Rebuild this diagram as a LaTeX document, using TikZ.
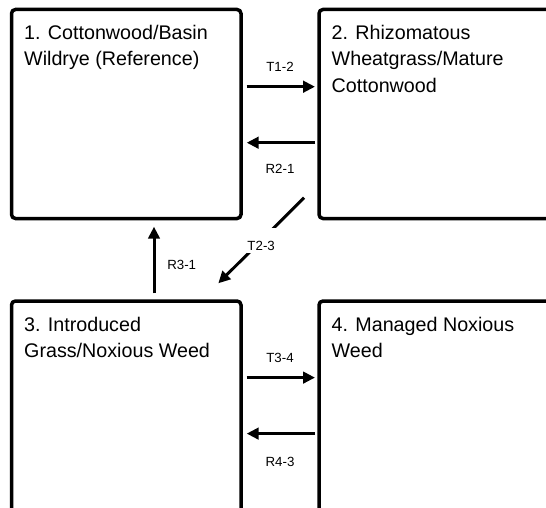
\documentclass[tikz,border=0pt]{standalone}
\usepackage{fontspec}
\setmainfont{Liberation Sans}
\usetikzlibrary{arrows.meta}
\begin{document}
\begin{tikzpicture}[x=1pt,y=-1pt,
  statebox/.style={draw, line width=3.5pt, rounded corners=4pt,
    minimum width=229.5pt, minimum height=209pt, inner sep=0pt, outer sep=0pt},
  statetext/.style={anchor=north west, align=left, inner sep=0pt,
    font=\fontsize{19.7}{26.3}\selectfont},
  arr/.style={line width=3pt, -{Triangle[length=12pt,width=11.5pt]}},
  lbl/.style={font=\fontsize{13.3}{15}\selectfont, inner sep=0pt}]
\useasboundingbox (0,0) rectangle (546,508);
\clip (0,0) rectangle (546,508);
% boxes
\node[statebox] (b1) at (126.25,114) {};
\node[statebox, minimum width=249.5pt] (b2) at (443.75,114) {};
\node[statebox, minimum height=229pt] (b3) at (126.25,415.5) {};
\node[statebox, minimum width=249.5pt, minimum height=229pt] (b4) at (443.75,415.5) {};
% box texts
\node[statetext] (t1) at ([xshift=12.5pt,yshift=-15pt]b1.north west)
  {\rule{0pt}{15pt}1. Cottonwood/Basin\\Wildrye (Reference)};
\node[statetext] (t2) at ([xshift=12.5pt,yshift=-15pt]b2.north west)
  {\rule{0pt}{15pt}2. Rhizomatous\\Wheatgrass/Mature\\Cottonwood};
\node[statetext] (t3) at ([xshift=12.5pt,yshift=-15pt]b3.north west)
  {\rule{0pt}{15pt}3. Introduced\\Grass/Noxious Weed};
\node[statetext] (t4) at ([xshift=12.5pt,yshift=-15pt]b4.north west)
  {\rule{0pt}{15pt}4. Managed Noxious\\Weed};
% horizontal transitions
\draw[arr, shorten <=5.7pt, shorten >=4pt]
  ([yshift=-77.2pt]b1.north east) -- ([yshift=-77.2pt]b2.north west);
\draw[arr, shorten <=4pt, shorten >=5.7pt]
  ([yshift=-133.2pt]b2.north west) -- ([yshift=-133.2pt]b1.north east);
\draw[arr, shorten <=5.7pt, shorten >=4pt]
  ([yshift=-76.6pt]b3.north east) -- ([yshift=-76.6pt]b4.north west);
\draw[arr, shorten <=4pt, shorten >=5.7pt]
  ([yshift=-132.6pt]b4.north west) -- ([yshift=-132.6pt]b3.north east);
% vertical R3-1
\draw[arr, shorten <=7.7pt, shorten >=8.2pt]
  ([xshift=142.5pt]b3.north west) -- ([xshift=142.5pt]b1.south west);
% diagonal T2-3
\draw[arr]
  ([xshift=-15pt,yshift=20.8pt]b2.south west) --
  node[lbl, fill=white, minimum height=25pt, minimum width=34pt,
       text height=19pt, text depth=0pt] (l23) {T2-3}
  ([xshift=-22.7pt,yshift=17.7pt]b3.north east);
% labels
\node[lbl] (l12) at (280,66.7) {T1-2};
\node[lbl] (l21) at (280,169) {R2-1};
\node[lbl] (l34) at (280,358.3) {T3-4};
\node[lbl] (l43) at (280,461.7) {R4-3};
\node[lbl] (l31) at (181.7,265) {R3-1};
\end{tikzpicture}
\end{document}
